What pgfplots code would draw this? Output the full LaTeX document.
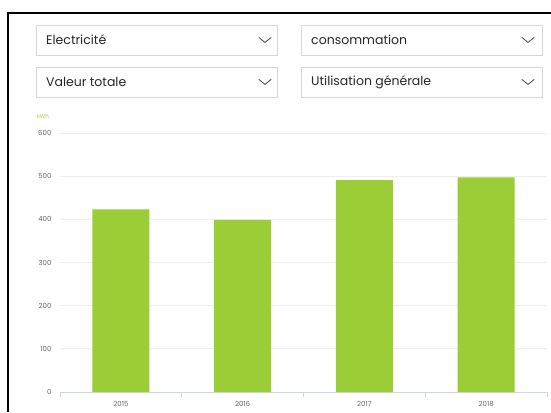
\documentclass[border=0pt]{standalone}
\usepackage{pgfplots}
\pgfplotsset{compat=1.18}
\usepackage{fontspec}
\setmainfont{Poppins}
\definecolor{bargreen}{HTML}{9BCD36}
\definecolor{axisgray}{HTML}{CCD6EB}
\definecolor{gridgray}{HTML}{EEEEEE}
\definecolor{boxgray}{HTML}{D6D6D6}
\definecolor{labgray}{HTML}{666666}
\definecolor{kwhgreen}{HTML}{9BCD36}
\begin{document}
\begin{tikzpicture}
\path[use as bounding box] (0pt,0pt) rectangle (551pt,412pt);
% frame
\draw[line width=2.5pt, black] (8pt,0pt) -- (8pt,399pt) -- (551pt,399pt);
% dropdowns
\draw[draw=boxgray, line width=0.8pt, fill=white] (36pt,357pt) rectangle (277pt,387pt);
\draw[draw=boxgray, line width=0.8pt, fill=white] (301pt,357pt) rectangle (542pt,387pt);
\draw[draw=boxgray, line width=0.8pt, fill=white] (36pt,315pt) rectangle (277pt,345pt);
\draw[draw=boxgray, line width=0.8pt, fill=white] (301pt,315pt) rectangle (542pt,345pt);
\node[anchor=west, inner sep=0pt, font=\fontsize{12.5}{14}\selectfont, text=black!85] at (46pt,372pt) {Electricité};
\node[anchor=west, inner sep=0pt, font=\fontsize{12.5}{14}\selectfont, text=black!85] at (311pt,372pt) {consommation};
\node[anchor=west, inner sep=0pt, font=\fontsize{12.5}{14}\selectfont, text=black!85] at (46pt,330pt) {Valeur totale};
\node[anchor=west, inner sep=0pt, font=\fontsize{12.5}{14}\selectfont, text=black!85] at (311pt,330pt) {Utilisation générale};
\foreach \cx/\cy in {265/372, 528/372, 265/330, 528/330}{
  \draw[line width=0.9pt, black!65, line cap=round, line join=round] (\cx pt-6pt,\cy pt+2.5pt) -- (\cx pt,\cy pt-2.5pt) -- (\cx pt+6pt,\cy pt+2.5pt);
}
% unit
\node[anchor=center, inner sep=0pt, font=\fontsize{5.5}{6}\selectfont, text=kwhgreen] at (43pt,296pt) {kWh};
\begin{axis}[
  at={(120.875pt,20pt)}, anchor=origin,
  scale only axis, width=487pt, height=259pt,
  ymin=0, ymax=600, xmin=-0.5, xmax=3.5,
  ytick={0,100,...,600},
  ymajorgrids, grid style={draw=gridgray, line width=0.7pt},
  axis lines*=left,
  y axis line style={draw=none},
  x axis line style={draw=axisgray, line width=0.9pt, -},
  xtick={0,1,2,3}, xticklabels={2015,2016,2017,2018},
  major tick length=0pt,
  extra x ticks={-0.5,0.5,1.5,2.5,3.5},
  extra x tick labels={},
  extra x tick style={major tick length=5pt, tick align=outside, grid=none, major tick style={draw=axisgray, line width=0.8pt}},
  /pgf/number format/assume math mode=true,
  yticklabel style={font=\fontsize{7}{8}\selectfont, text=labgray, xshift=-5pt},
  xticklabel style={font=\fontsize{7}{8}\selectfont, text=labgray, yshift=-6pt},
  clip=false,
]
\addplot[ybar, bar width=57pt, fill=bargreen, draw=none] coordinates {(0,423) (1,399) (2,491) (3,497)};
\end{axis}
\end{tikzpicture}
\end{document}
